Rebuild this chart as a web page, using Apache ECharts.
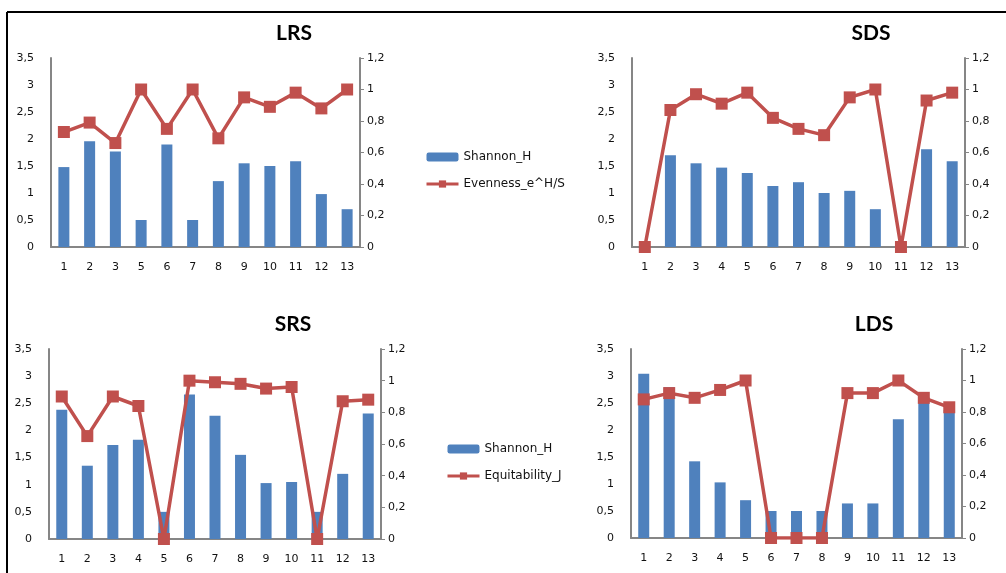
<!DOCTYPE html>
<html>
<head>
<meta charset="utf-8">
<script src="https://cdn.jsdelivr.net/npm/echarts@6/dist/echarts.min.js"></script>
<style>
  html, body { margin: 0; padding: 0; background: #fff; }
  #chart { width: 1006px; height: 573px; }
</style>
</head>
<body>
<div id="chart"></div>
<script>
// station numbers (LRS has no station 4)
var catLRS = ['1','2','3','5','6','7','8','9','10','11','12','13'];
var catAll = ['1','2','3','4','5','6','7','8','9','10','11','12','13'];

// Shannon_H
var shannonLRS = [1.48, 1.96, 1.77, 0.50, 1.90, 0.50, 1.22, 1.55, 1.50, 1.59, 0.98, 0.70];
var shannonSDS = [0, 1.70, 1.55, 1.47, 1.37, 1.13, 1.20, 1.00, 1.04, 0.70, 0, 1.81, 1.59];
var shannonSRS = [2.38, 1.35, 1.73, 1.83, 0.50, 2.66, 2.27, 1.55, 1.03, 1.05, 0.50, 1.20, 2.31];
var shannonLDS = [3.04, 2.79, 1.42, 1.03, 0.70, 0.50, 0.50, 0.50, 0.64, 0.64, 2.20, 2.61, 2.37];

// Evenness_e^H/S (top) and Equitability_J (bottom)
var evenLRS = [0.73, 0.79, 0.66, 1.00, 0.75, 1.00, 0.69, 0.95, 0.89, 0.98, 0.88, 1.00];
var evenSDS = [0, 0.87, 0.97, 0.91, 0.98, 0.82, 0.75, 0.71, 0.95, 1.00, 0, 0.93, 0.98];
var equitSRS = [0.90, 0.65, 0.90, 0.84, 0, 1.00, 0.99, 0.98, 0.95, 0.96, 0, 0.87, 0.88];
var equitLDS = [0.88, 0.92, 0.89, 0.94, 1.00, 0, 0, 0, 0.92, 0.92, 1.00, 0.89, 0.83];

var leftTicks = {min: 0, max: 3.5, interval: 0.5};
var rightTicks = {min: 0, max: 1.2, interval: 0.2};

var BLUE = '#4F81BD', RED = '#C0504D', AXIS = '#868686';
var FONT = 'DejaVu Sans';

function comma(v) { return String(+v.toFixed(1)).replace('.', ','); }

var panels = [
  {title: 'LRS', cats: catLRS, bar: shannonLRS, line: evenLRS, lineName: 'Evenness_e^H/S',
   box: {left: 51, top: 58, width: 309, height: 189}, tx: 289, ty: 28},
  {title: 'SDS', cats: catAll, bar: shannonSDS, line: evenSDS, lineName: 'Evenness_e^H/S',
   box: {left: 632, top: 58, width: 333, height: 189}, tx: 866, ty: 28},
  {title: 'SRS', cats: catAll, bar: shannonSRS, line: equitSRS, lineName: 'Equitability_J',
   box: {left: 49, top: 349, width: 332, height: 190}, tx: 288, ty: 319},
  {title: 'LDS', cats: catAll, bar: shannonLDS, line: equitLDS, lineName: 'Equitability_J',
   box: {left: 631, top: 349, width: 331, height: 189}, tx: 869, ty: 319}
];

var grid = [], xAxis = [], yAxis = [], series = [], title = [];
panels.forEach(function (p, i) {
  grid.push({left: p.box.left, top: p.box.top, width: p.box.width, height: p.box.height});
  title.push({text: p.title, left: p.tx, top: p.ty, textAlign: 'center', textVerticalAlign: 'middle',
    textStyle: {fontFamily: 'Lato', fontWeight: 'bold', fontSize: 21, color: '#000'}});
  xAxis.push({type: 'category', gridIndex: i, data: p.cats,
    axisLine: {lineStyle: {color: AXIS, width: 2}}, axisTick: {show: false},
    axisLabel: {color: '#111', fontFamily: FONT, fontSize: 11, margin: 15}});
  yAxis.push({type: 'value', gridIndex: i, min: leftTicks.min, max: leftTicks.max, interval: leftTicks.interval,
    splitLine: {show: false}, axisTick: {show: false},
    axisLine: {show: true, lineStyle: {color: AXIS, width: 2}},
    axisLabel: {color: '#111', fontFamily: FONT, fontSize: 11, margin: 17, formatter: comma}});
  yAxis.push({type: 'value', gridIndex: i, position: 'right', min: rightTicks.min, max: rightTicks.max,
    interval: rightTicks.interval, splitLine: {show: false},
    axisTick: {show: true, length: 4, lineStyle: {color: AXIS}},
    axisLine: {show: true, lineStyle: {color: AXIS, width: 2}},
    axisLabel: {color: '#111', fontFamily: FONT, fontSize: 11, margin: 7, formatter: comma}});
  series.push({name: 'Shannon_H', type: 'bar', xAxisIndex: i, yAxisIndex: i * 2, data: p.bar,
    barWidth: 11, itemStyle: {color: BLUE}});
  series.push({name: p.lineName, type: 'line', xAxisIndex: i, yAxisIndex: i * 2 + 1, data: p.line,
    symbol: 'rect', symbolSize: 12, lineStyle: {color: RED, width: 3.5}, itemStyle: {color: RED},
    z: 3});
});

var legendText = {fontFamily: FONT, fontSize: 12, color: '#111'};
var chart = echarts.init(document.getElementById('chart'));
chart.setOption({
  animation: false,
  title: title,
  grid: grid,
  xAxis: xAxis,
  yAxis: yAxis,
  series: series,
  legend: [
    {orient: 'vertical', left: 420, top: 146, itemWidth: 32, itemHeight: 9, itemGap: 15,
     data: ['Shannon_H', 'Evenness_e^H/S'], selectedMode: false,
     lineStyle: {width: 3}, textStyle: legendText},
    {orient: 'vertical', left: 441, top: 438, itemWidth: 32, itemHeight: 9, itemGap: 15,
     data: ['Shannon_H', 'Equitability_J'], selectedMode: false,
     lineStyle: {width: 3}, textStyle: legendText}
  ],
  graphic: [
    {type: 'line', shape: {x1: 7, y1: 12, x2: 1006, y2: 12}, style: {stroke: '#000', lineWidth: 2}},
    {type: 'line', shape: {x1: 7, y1: 12, x2: 7, y2: 573}, style: {stroke: '#000', lineWidth: 2}}
  ]
});
</script>
</body>
</html>
